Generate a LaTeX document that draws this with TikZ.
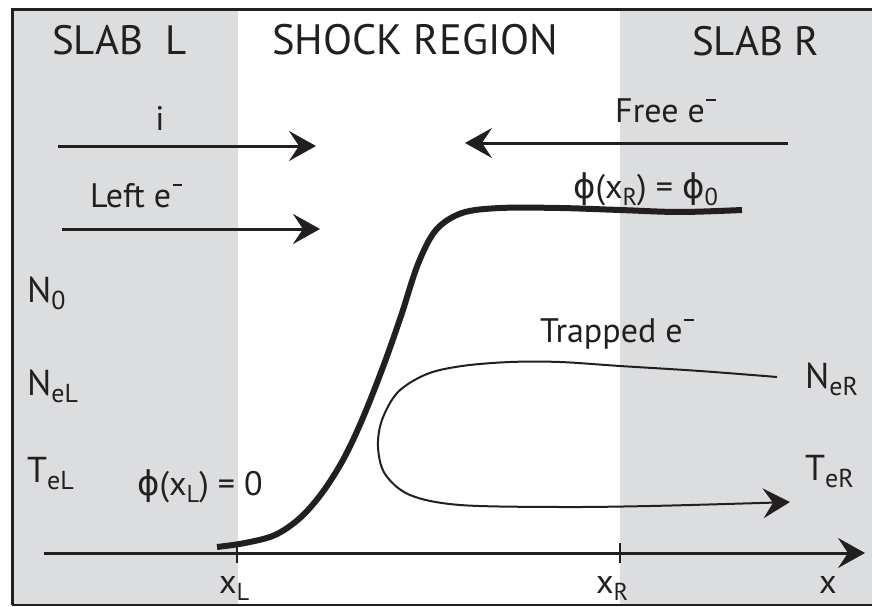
\documentclass[tikz,border=0pt]{standalone}
\usepackage{fontspec}
\setmainfont{PT Sans}
\newfontfamily\symfont{DejaVu Sans}
\usetikzlibrary{arrows.meta}
\definecolor{slabgray}{HTML}{DCDDDF}
\definecolor{ink}{HTML}{231F20}
\newcommand\lowsub[1]{\raisebox{-0.22em}{\scalebox{0.72}{#1}}}
\newcommand\elec{e\hspace{0.04em}\rule[0.62em]{0.28em}{0.07em}}
\newcommand\ph{{\symfont ϕ}}
\begin{document}
\begin{tikzpicture}[x=1pt,y=-1pt,
  title/.style={anchor=base west, inner sep=0pt, font=\fontsize{41}{41}\selectfont, text=ink},
  lbl/.style={anchor=base west, inner sep=0pt, font=\fontsize{36}{36}\selectfont, text=ink},
  small/.style={anchor=base west, inner sep=0pt, font=\fontsize{34}{34}\selectfont, text=ink},
  tip/.style={-{Stealth[length=27pt,width=30pt,inset=10pt]}},
  flow/.style={line width=3pt, draw=ink, tip},
  axisline/.style={line width=3pt, draw=ink, tip},
  potential/.style={line width=6pt, draw=ink, line cap=butt},
  trapped/.style={line width=2pt, draw=ink, tip}]
\useasboundingbox (0,0) rectangle (872,607);
% background slabs
\fill[white] (0,0) rectangle (872,607);
\fill[slabgray] (12,8) rectangle (238,605);
\fill[slabgray] (620,8) rectangle (872,605);
% frame
\draw[ink, line width=3pt] (872,10) -- (12,10) -- (12,605);
\draw[ink, line width=1.5pt] (12,605) -- (872,605);
% titles
\node[title] (slabL) at (52,55) {SLAB\hspace{0.55em}L};
\node[title, font=\fontsize{42.5}{42.5}\selectfont] (shock) at (272,55) {SHOCK REGION};
\node[title] (slabR) at (692,56) {SLAB R};
% flow arrows
\coordinate (iS) at (58,146);
\coordinate (iE) at (316,146);
\coordinate (lS) at (62,229);
\coordinate (lE) at (320,229);
\coordinate (fS) at (788,143);
\coordinate (fE) at (465,143);
\draw[flow] (iS) -- (iE);
\draw[flow] (lS) -- (lE);
\draw[flow] (fS) -- (fE);
\node[small, anchor=base] (ilab) at (160,130) {i};
\node[small] (leftlab) at (90,207) {Left \elec};
\node[small] (freelab) at (615,122) {Free \elec};
\node[small] (phiR) at (573,198) {\ph(x\lowsub{R}) = \ph\lowsub{0}};
% left labels
\node[lbl] (n0) at (27,302) {N\lowsub{0}};
\node[lbl] (nel) at (27,395) {N\lowsub{eL}};
\node[lbl] (tel) at (27,482) {T\lowsub{eL}};
\node[small] (phiL) at (137,495) {\ph(x\lowsub{L}) = 0};
% right labels
\node[small] (traplab) at (540,342) {Trapped \elec};
\node[lbl] (ner) at (805,388) {N\lowsub{eR}};
\node[lbl] (ter) at (805,480) {T\lowsub{eR}};
% axis
\coordinate (aS) at (44,553);
\coordinate (aE) at (865,553);
\draw[axisline] (aS) -- (aE);
\coordinate (xL) at (237,553);
\coordinate (xR) at (620,553);
\draw[ink, line width=2.5pt] ([yshift=-10pt]xL) -- ([yshift=10pt]xL);
\draw[ink, line width=2.5pt] ([yshift=-10pt]xR) -- ([yshift=10pt]xR);
\node[small] (xLlab) at (219,593) {x\lowsub{L}};
\node[small] (xRlab) at (596,593) {x\lowsub{R}};
\node[small] (xlab) at (819,593) {x};
% potential curve
\draw[potential] plot[smooth, tension=0.55] coordinates {(217,547) (245,543) (275,535) (300,518) (322,493) (343,460) (362,420) (383,367) (401,316) (418,264) (436,230) (462,213) (500,208) (560,208) (620,210) (680,212) (742,210)};
% trapped electrons
\draw[trapped] plot[smooth, tension=0.55] coordinates {(777,377) (700,371) (620,366) (560,362) (510,362) (462,366) (427,374) (398,392) (382,420) (378,447) (385,474) (410,495) (460,505) (560,507) (650,506) (760,503) (790,502)};
\end{tikzpicture}
\end{document}
